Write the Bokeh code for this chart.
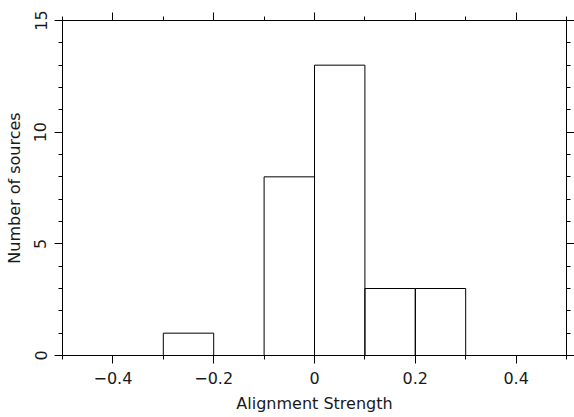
from bokeh.plotting import figure
from bokeh.models import LinearAxis, FixedTicker, Range1d
from bokeh.embed import file_html
from bokeh.resources import INLINE

bin_left = [-0.5, -0.4, -0.3, -0.2, -0.1, 0.0, 0.1, 0.2, 0.3, 0.4]
bin_right = [-0.4, -0.3, -0.2, -0.1, 0.0, 0.1, 0.2, 0.3, 0.4, 0.5]
counts = [0, 0, 1, 0, 8, 13, 3, 3, 0, 0]

x_ticks = [-0.4, -0.2, 0.0, 0.2, 0.4]
x_tick_labels = ["\u22120.4", "\u22120.2", "0", "0.2", "0.4"]
x_minor = [-0.5, -0.3, -0.1, 0.1, 0.3, 0.5]
y_ticks = [0, 5, 10, 15]
y_tick_labels = ["0", "5", "10", "15"]
y_minor = [1, 2, 3, 4, 6, 7, 8, 9, 11, 12, 13, 14]

FONT = "DejaVu Sans"

p = figure(width=574, height=417, output_backend="svg", toolbar_location=None,
           x_range=Range1d(-0.5, 0.5), y_range=Range1d(0, 15),
           x_axis_location=None, y_axis_location=None,
           min_border_left=62, min_border_right=8, min_border_top=20, min_border_bottom=62)
p.grid.visible = False
p.outline_line_color = "black"
p.background_fill_color = "white"
p.border_fill_color = "white"

p.quad(left=bin_left, right=bin_right, bottom=0, top=counts,
       fill_color=None, line_color="black", line_width=1)

def style(ax, ticks, minor, labels=None):
    ax.ticker = FixedTicker(ticks=ticks, minor_ticks=minor)
    ax.axis_line_color = "black"
    ax.major_tick_line_color = "black"
    ax.minor_tick_line_color = "black"
    ax.major_tick_out = 8
    ax.major_tick_in = 0
    ax.minor_tick_out = 4
    ax.minor_tick_in = 0
    ax.major_label_text_font = FONT
    ax.major_label_text_font_size = "16px"
    ax.major_label_text_color = "#1a1a1a"
    ax.axis_label_text_font = FONT
    ax.axis_label_text_font_size = "16px"
    ax.axis_label_text_font_style = "normal"
    ax.axis_label_text_color = "#1a1a1a"
    if labels is None:
        ax.major_label_overrides = {t: "" for t in ticks}
        ax.major_label_standoff = 0
        ax.major_label_text_font_size = "1px"
    else:
        ax.major_label_overrides = {t: l for t, l in zip(ticks, labels)}

xb = LinearAxis(axis_label="Alignment Strength")
style(xb, x_ticks, x_minor, x_tick_labels)
xb.major_label_standoff = 8
xb.axis_label_standoff = 7
p.add_layout(xb, "below")

yl = LinearAxis(axis_label="Number of sources")
style(yl, y_ticks, y_minor, y_tick_labels)
yl.major_label_orientation = "parallel"
yl.major_label_standoff = 8
yl.axis_label_standoff = 8
p.add_layout(yl, "left")

xt = LinearAxis()
style(xt, x_ticks, x_minor)
p.add_layout(xt, "above")

yr = LinearAxis()
style(yr, y_ticks, y_minor)
p.add_layout(yr, "right")

open("out.html", "w").write(file_html(p, INLINE))
